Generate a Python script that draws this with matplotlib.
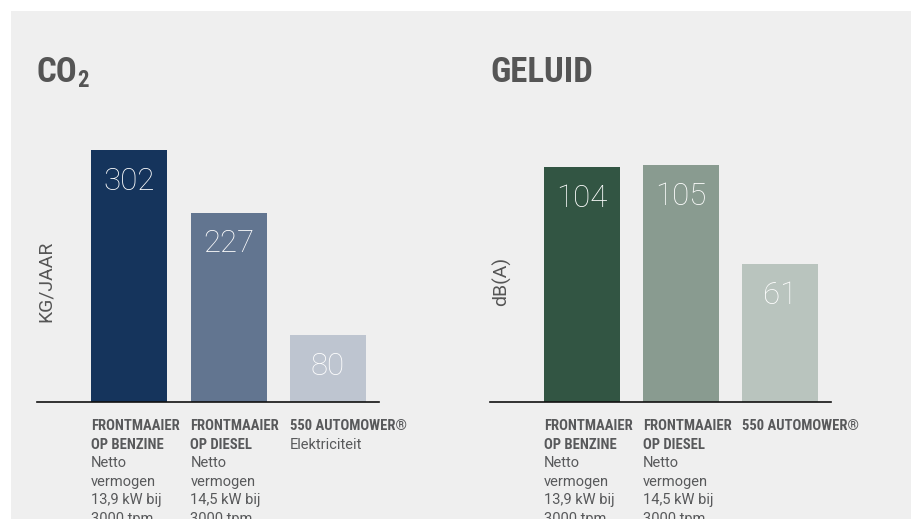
import matplotlib
matplotlib.use("Agg")
import matplotlib.pyplot as plt
from matplotlib import font_manager

# data
co2_values = [302, 227, 80]
co2_colors = ["#15345c", "#627590", "#bec5d0"]
geluid_values = [104, 105, 61]
geluid_colors = ["#325543", "#899b90", "#b9c4be"]

co2_bold = [["FRONTMAAIER", "OP BENZINE"], ["FRONTMAAIER", "OP DIESEL"], ["550 AUTOMOWER®"]]
co2_regular = [["Netto", "vermogen", "13,9 kW bij", "3000 tpm"],
               ["Netto", "vermogen", "14,5 kW bij", "3000 tpm"],
               ["Elektriciteit"]]
geluid_bold = co2_bold
geluid_regular = [["Netto", "vermogen", "13,9 kW bij", "3000 tpm"],
                  ["Netto", "vermogen", "14,5 kW bij", "3000 tpm"],
                  []]

names = {f.name for f in font_manager.fontManager.ttflist}
cond = "Roboto Condensed" if "Roboto Condensed" in names else (
    "Liberation Sans Narrow" if "Liberation Sans Narrow" in names else "Roboto")

BG = "#efefef"
TXT = "#58595b"
W, H = 911, 519

fig = plt.figure(figsize=(9.11, 5.19), dpi=100)
fig.patch.set_facecolor("white")
fig.patches.append(plt.Rectangle((11 / W, 0), 1, 1 - 11 / H, transform=fig.transFigure,
                                 facecolor=BG, edgecolor="none", zorder=-10))


def panel(x0, x1, centers_px, values, colors, ymax, ylabel, bold, regular, ylab_x):
    pitch = (centers_px[2] - centers_px[0]) / 2
    left = (x0 - centers_px[0]) / pitch
    right = (x1 - centers_px[0]) / pitch
    ax = fig.add_axes([x0 / W, 1 - 402 / H, (x1 - x0) / W, 262 / H])
    ax.set_facecolor("none")
    xs = range(len(values))
    bw = 76 / pitch
    ax.bar(xs, values, width=bw, color=colors, zorder=2)
    ax.set_xlim(left, right)
    ax.set_ylim(0, ymax)
    for s in ["top", "left", "right"]:
        ax.spines[s].set_visible(False)
    ax.spines["bottom"].set_color("#111111")
    ax.spines["bottom"].set_linewidth(1.2)
    ax.set_xticks([])
    ax.set_yticks([])
    for i, v in enumerate(values):
        ax.annotate(str(v), xy=(i, v), xytext=(0, -31), textcoords="offset pixels",
                    ha="center", va="center", color="white", fontsize=22.5,
                    family="Roboto", fontweight="light")
        lines = [(t, "bold") for t in bold[i]] + [(t, "normal") for t in regular[i]]
        for k, (t, wgt) in enumerate(lines):
            ax.annotate(t, xy=(i - bw / 2, 0), xycoords=("data", "axes fraction"),
                        xytext=(0, -28 - 18.6 * k), textcoords="offset pixels",
                        ha="left", va="baseline", color=TXT, fontsize=10.5,
                        family=cond if wgt == "bold" else "Roboto",
                        fontweight=wgt, annotation_clip=False)
    fig.text(ylab_x / W, 1 - 281 / H, ylabel, rotation=90, ha="center", va="center",
             color="#555555", fontsize=14, family="Roboto", fontweight="normal")
    return ax


ax1 = panel(37, 379, [129, 229, 328], co2_values, co2_colors, 262 / 0.834,
            "KG/JAAR", co2_bold, co2_regular, 46)
ax2 = panel(490, 831, [582, 681, 780], geluid_values, geluid_colors, 262 / 2.255,
            "dB(A)", geluid_bold, geluid_regular, 502)

t1 = fig.text(37 / W, 1 - 82 / H, "CO", ha="left", va="baseline", color="#555555",
              fontsize=25, family=cond, fontweight="bold")
ax1.annotate("2", xy=(1, 0), xycoords=t1, xytext=(-1, 2), textcoords="offset pixels",
             ha="left", va="baseline", color="#555555", fontsize=16.5, family=cond,
             fontweight="bold", annotation_clip=False)
fig.text(490 / W, 1 - 82 / H, "GELUID", ha="left", va="baseline", color="#555555",
         fontsize=25, family=cond, fontweight="bold")

fig.savefig("out.png", dpi=100, facecolor=fig.get_facecolor())
